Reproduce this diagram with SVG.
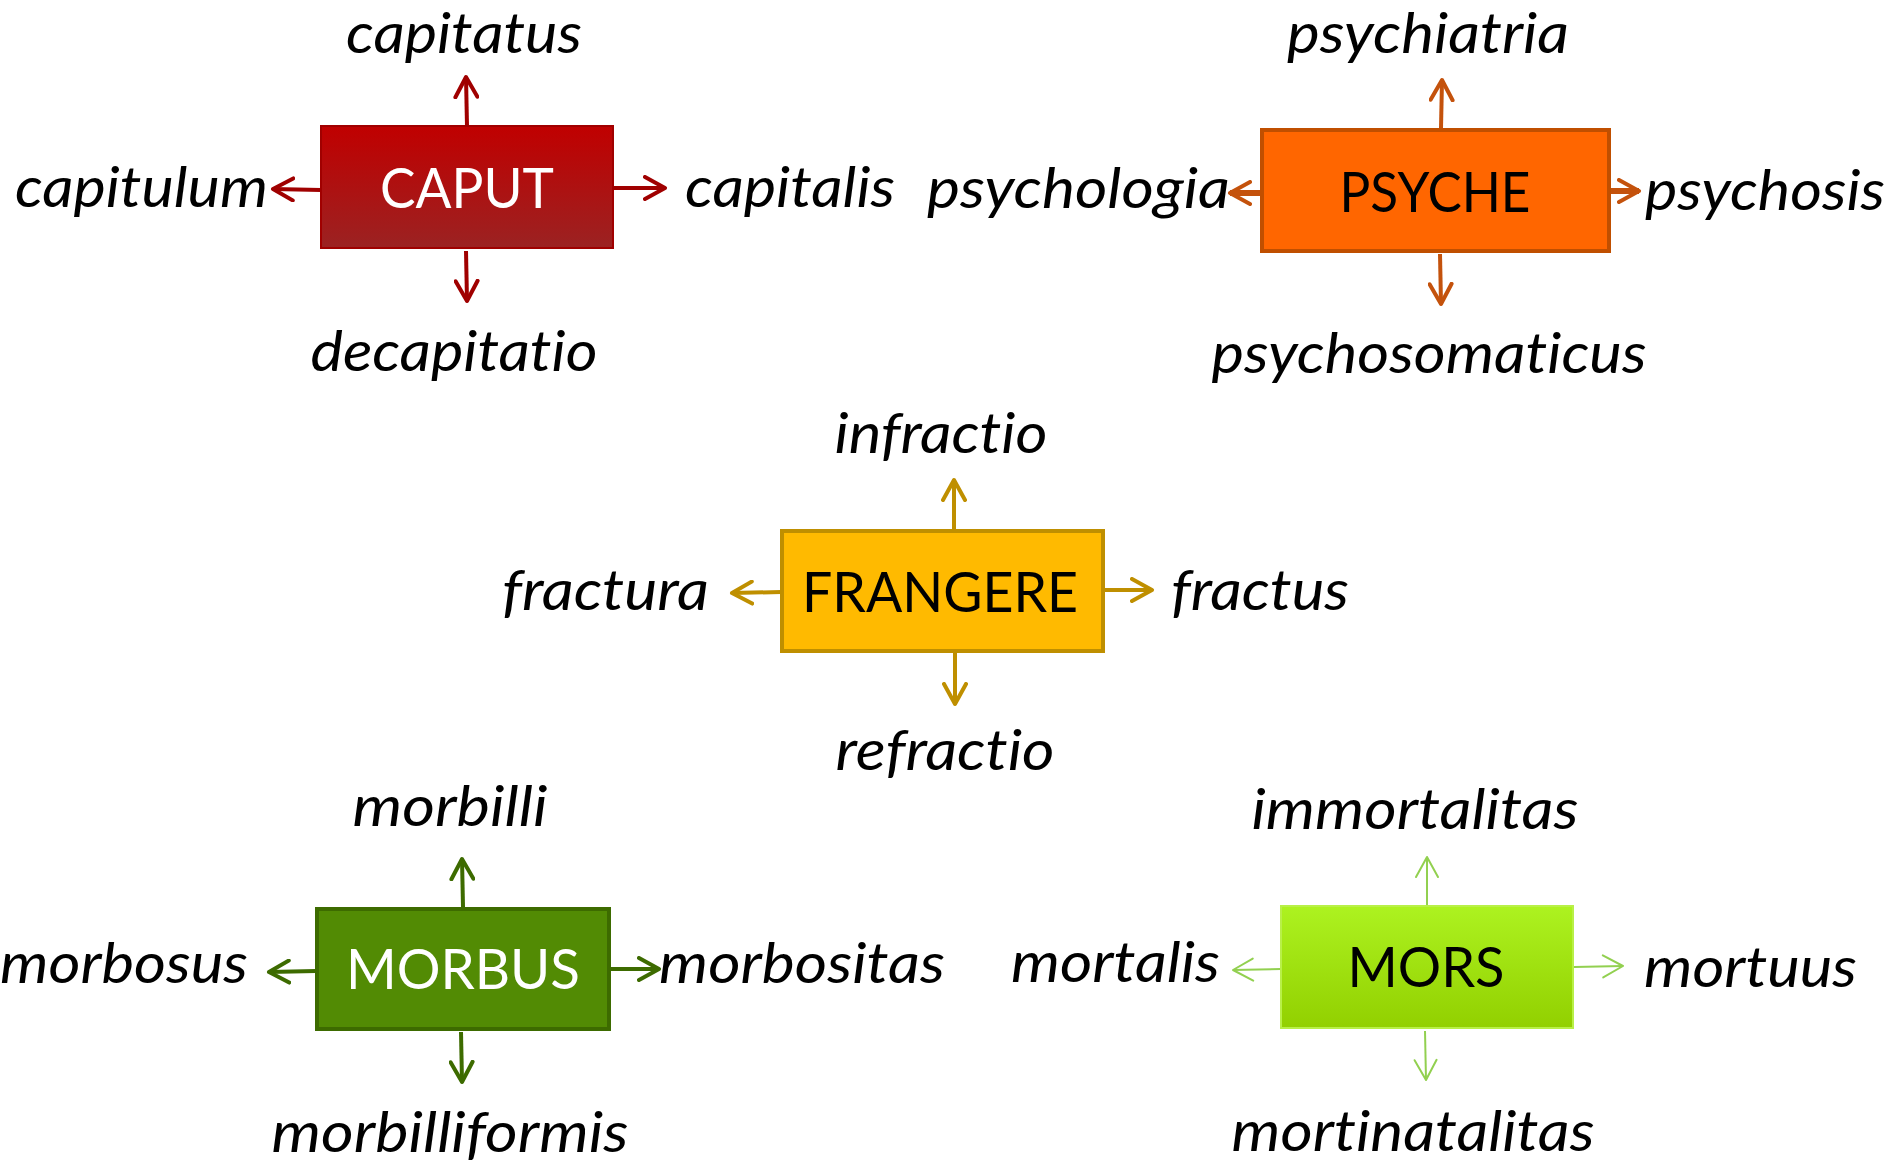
<svg xmlns="http://www.w3.org/2000/svg" width="1897" height="1164" viewBox="0 0 1897 1164">
<style>
  .lbl { font-family: Lato, "Open Sans", "Liberation Sans", sans-serif; font-style: italic; font-size: 56px; fill: #000; font-variant-ligatures: none; }
  .ttl { font-family: Lato, "Open Sans", "Liberation Sans", sans-serif; font-size: 56px; font-variant-ligatures: none; }
  .mid { text-anchor: middle; }
  .a-red { stroke: #A00000; stroke-width: 4; fill: none; marker-end: url(#m-red); }
  .a-org { stroke: #C4520C; stroke-width: 4; fill: none; marker-end: url(#m-org); }
  .a-org2 { stroke: #C4520C; stroke-width: 6; fill: none; marker-end: url(#m-org); }
  .a-yel { stroke: #BF8F00; stroke-width: 4; fill: none; marker-end: url(#m-yel); }
  .a-grn { stroke: #3D6B00; stroke-width: 4; fill: none; marker-end: url(#m-grn); }
  .a-lim { stroke: #92D050; stroke-width: 2; fill: none; marker-end: url(#m-lim); }
</style>
<defs>
  <linearGradient id="g-red" x1="0" y1="0" x2="0" y2="1">
    <stop offset="0" stop-color="#C00000"/>
    <stop offset="1" stop-color="#9B2222"/>
  </linearGradient>
  <linearGradient id="g-lim" x1="0" y1="0" x2="0" y2="1">
    <stop offset="0" stop-color="#ADF220"/>
    <stop offset="1" stop-color="#92D000"/>
  </linearGradient>
  <marker id="m-red" viewBox="0 0 26 26" refX="22" refY="13" markerWidth="26" markerHeight="26" markerUnits="userSpaceOnUse" orient="auto">
    <path d="M2,2 L22,13 L2,24" fill="none" stroke="#A00000" stroke-width="4" stroke-linecap="round" stroke-linejoin="round"/>
  </marker>
  <marker id="m-org" viewBox="0 0 26 26" refX="22" refY="13" markerWidth="26" markerHeight="26" markerUnits="userSpaceOnUse" orient="auto">
    <path d="M2,2 L22,13 L2,24" fill="none" stroke="#C4520C" stroke-width="4" stroke-linecap="round" stroke-linejoin="round"/>
  </marker>
  <marker id="m-yel" viewBox="0 0 26 26" refX="22" refY="13" markerWidth="26" markerHeight="26" markerUnits="userSpaceOnUse" orient="auto">
    <path d="M2,2 L22,13 L2,24" fill="none" stroke="#BF8F00" stroke-width="4" stroke-linecap="round" stroke-linejoin="round"/>
  </marker>
  <marker id="m-grn" viewBox="0 0 26 26" refX="22" refY="13" markerWidth="26" markerHeight="26" markerUnits="userSpaceOnUse" orient="auto">
    <path d="M2,2 L22,13 L2,24" fill="none" stroke="#3D6B00" stroke-width="4" stroke-linecap="round" stroke-linejoin="round"/>
  </marker>
  <marker id="m-lim" viewBox="0 0 26 26" refX="22" refY="13" markerWidth="26" markerHeight="26" markerUnits="userSpaceOnUse" orient="auto">
    <path d="M2,2 L22,13 L2,24" fill="none" stroke="#92D050" stroke-width="2" stroke-linecap="round" stroke-linejoin="round"/>
  </marker>
</defs>
<rect width="1897" height="1164" fill="#FFFFFF"/>

<g id="connectors">
  <line class="a-red" x1="467" y1="126" x2="466" y2="77"/>
  <line class="a-red" x1="321" y1="190" x2="273" y2="189"/>
  <line class="a-red" x1="613" y1="188" x2="665" y2="188"/>
  <line class="a-red" x1="466" y1="251" x2="467" y2="301"/>

  <line class="a-org" x1="1441" y1="128" x2="1442" y2="80"/>
  <line class="a-org2" x1="1278" y1="193" x2="1230" y2="193"/>
  <line class="a-org2" x1="1590" y1="191" x2="1639" y2="191"/>
  <line class="a-org" x1="1440" y1="254" x2="1441" y2="304"/>

  <line class="a-yel" x1="954" y1="529" x2="954" y2="480"/>
  <line class="a-yel" x1="781" y1="592" x2="732" y2="593"/>
  <line class="a-yel" x1="1104" y1="590" x2="1152" y2="590"/>
  <line class="a-yel" x1="955" y1="653" x2="955" y2="704"/>

  <line class="a-grn" x1="463" y1="907" x2="462" y2="859"/>
  <line class="a-grn" x1="316" y1="971" x2="269" y2="972"/>
  <line class="a-grn" x1="609" y1="969" x2="659" y2="969"/>
  <line class="a-grn" x1="461" y1="1032" x2="462" y2="1082"/>

  <line class="a-lim" x1="1427" y1="906" x2="1427" y2="857"/>
  <line class="a-lim" x1="1281" y1="969" x2="1233" y2="970"/>
  <line class="a-lim" x1="1574" y1="967" x2="1623" y2="966"/>
  <line class="a-lim" x1="1425" y1="1031" x2="1426" y2="1080"/>
</g>

<g id="node-caput">
  <rect x="321" y="126" width="292" height="122" fill="url(#g-red)" stroke="#A00000" stroke-width="2"/>
  <text class="ttl mid" x="467" y="208" fill="#FFFFFF" textLength="174" lengthAdjust="spacingAndGlyphs">CAPUT</text>
</g>
<g id="node-psyche">
  <rect x="1262" y="130" width="347" height="121" fill="#FF6600" stroke="#C04F00" stroke-width="4"/>
  <text class="ttl mid" x="1435" y="212" fill="#000000" textLength="191" lengthAdjust="spacingAndGlyphs">PSYCHE</text>
</g>
<g id="node-frangere">
  <rect x="782" y="531" width="321" height="120" fill="#FFBA00" stroke="#BF8F00" stroke-width="4"/>
  <text class="ttl mid" x="940" y="612" fill="#000000" textLength="276" lengthAdjust="spacingAndGlyphs">FRANGERE</text>
</g>
<g id="node-morbus">
  <rect x="317" y="909" width="292" height="120" fill="#528B04" stroke="#3D6B00" stroke-width="4"/>
  <text class="ttl mid" x="463" y="989" fill="#FFFFFF" textLength="234" lengthAdjust="spacingAndGlyphs">MORBUS</text>
</g>
<g id="node-mors">
  <rect x="1281" y="906" width="292" height="122" fill="url(#g-lim)" stroke="#B8F048" stroke-width="2"/>
  <text class="ttl mid" x="1426" y="987" fill="#000000" textLength="157" lengthAdjust="spacingAndGlyphs">MORS</text>
</g>

<g id="label-capitatus"><text class="lbl mid" x="464" y="53" textLength="236" lengthAdjust="spacingAndGlyphs">capitatus</text></g>
<g id="label-capitulum"><text class="lbl" x="15" y="207" textLength="253" lengthAdjust="spacingAndGlyphs">capitulum</text></g>
<g id="label-capitalis"><text class="lbl" x="685" y="207" textLength="210" lengthAdjust="spacingAndGlyphs">capitalis</text></g>
<g id="label-decapitatio"><text class="lbl mid" x="454" y="371" textLength="287" lengthAdjust="spacingAndGlyphs">decapitatio</text></g>

<g id="label-psychiatria"><text class="lbl mid" x="1428" y="53" textLength="282" lengthAdjust="spacingAndGlyphs">psychiatria</text></g>
<g id="label-psychologia"><text class="lbl" x="927" y="208" textLength="303" lengthAdjust="spacingAndGlyphs">psychologia</text></g>
<g id="label-psychosis"><text class="lbl" x="1645" y="210" textLength="240" lengthAdjust="spacingAndGlyphs">psychosis</text></g>
<g id="label-psychosomaticus"><text class="lbl mid" x="1429" y="373" textLength="435" lengthAdjust="spacingAndGlyphs">psychosomaticus</text></g>

<g id="label-infractio"><text class="lbl mid" x="941" y="453" textLength="213" lengthAdjust="spacingAndGlyphs">infractio</text></g>
<g id="label-fractura"><text class="lbl" x="502" y="610" textLength="207" lengthAdjust="spacingAndGlyphs">fractura</text></g>
<g id="label-fractus"><text class="lbl" x="1171" y="610" textLength="178" lengthAdjust="spacingAndGlyphs">fractus</text></g>
<g id="label-refractio"><text class="lbl mid" x="945" y="770" textLength="219" lengthAdjust="spacingAndGlyphs">refractio</text></g>

<g id="label-morbilli"><text class="lbl mid" x="450" y="826" textLength="195" lengthAdjust="spacingAndGlyphs">morbilli</text></g>
<g id="label-morbosus"><text class="lbl" x="0" y="983" textLength="248" lengthAdjust="spacingAndGlyphs">morbosus</text></g>
<g id="label-morbositas"><text class="lbl" x="659" y="983" textLength="286" lengthAdjust="spacingAndGlyphs">morbositas</text></g>
<g id="label-morbilliformis"><text class="lbl mid" x="450" y="1152" textLength="357" lengthAdjust="spacingAndGlyphs">morbilliformis</text></g>

<g id="label-immortalitas"><text class="lbl mid" x="1415" y="829" textLength="327" lengthAdjust="spacingAndGlyphs">immortalitas</text></g>
<g id="label-mortalis"><text class="lbl" x="1011" y="982" textLength="209" lengthAdjust="spacingAndGlyphs">mortalis</text></g>
<g id="label-mortuus"><text class="lbl" x="1644" y="987" textLength="213" lengthAdjust="spacingAndGlyphs">mortuus</text></g>
<g id="label-mortinatalitas"><text class="lbl mid" x="1413" y="1151" textLength="363" lengthAdjust="spacingAndGlyphs">mortinatalitas</text></g>
</svg>
